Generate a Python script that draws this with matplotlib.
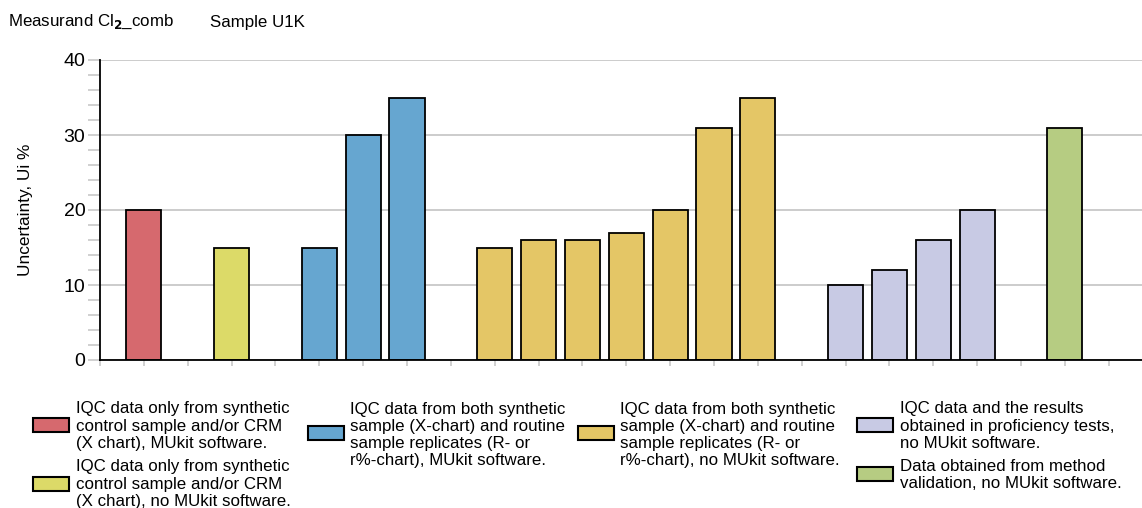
import matplotlib
matplotlib.use('Agg')
import matplotlib.pyplot as plt
from matplotlib.patches import Rectangle
from matplotlib.ticker import MultipleLocator

plt.rcParams['font.family'] = ['Liberation Sans', 'DejaVu Sans']

# slot positions along x (gaps between groups are empty slots)
positions = [1, 3, 5, 6, 7, 9, 10, 11, 12, 13, 14, 15, 17, 18, 19, 20, 22]
values = [20, 15, 15, 30, 35, 15, 16, 16, 17, 20, 31, 35, 10, 12, 16, 20, 31]
groups = [0, 1, 2, 2, 2, 3, 3, 3, 3, 3, 3, 3, 4, 4, 4, 4, 5]

group_colors = ['#D6696E', '#DCDA68', '#66A6D0', '#E4C666', '#C8CAE4', '#B6CC82']
group_labels = [
    'IQC data only from synthetic\ncontrol sample and/or CRM\n(X chart), MUkit software.',
    'IQC data only from synthetic\ncontrol sample and/or CRM\n(X chart), no MUkit software.',
    'IQC data from both synthetic\nsample (X-chart) and routine\nsample replicates (R- or\nr%-chart), MUkit software.',
    'IQC data from both synthetic\nsample (X-chart) and routine\nsample replicates (R- or\nr%-chart), no MUkit software.',
    'IQC data and the results\nobtained in proficiency tests,\nno MUkit software.',
    'Data obtained from method\nvalidation, no MUkit software.',
]

W, H = 1142, 508
fig = plt.figure(figsize=(W / 100, H / 100), dpi=100)
ax = fig.add_axes([100 / W, 1 - 360 / H, 1 - 100 / W, 300 / H])

ax.bar(positions, values, width=0.8, color=[group_colors[g] for g in groups],
       edgecolor='black', linewidth=1.3, zorder=3)

ax.set_xlim(0, 23.76)
ax.set_ylim(0, 40)
ax.set_xticks(range(0, 24))
ax.set_xticklabels([])
ax.yaxis.set_major_locator(MultipleLocator(10))
ax.yaxis.set_minor_locator(MultipleLocator(2))
ax.tick_params(axis='y', which='both', length=8.5, width=1.2, color='#c8c8c8',
               labelsize=14, pad=2)
ax.tick_params(axis='x', length=4, width=1.2, color='#c8c8c8')
ax.grid(axis='y', color='#c8c8c8', linewidth=1.3, zorder=0)
for s in ['top', 'right']:
    ax.spines[s].set_visible(False)
for s in ['left', 'bottom']:
    ax.spines[s].set_linewidth(1.3)
    ax.spines[s].set_zorder(4)
ax.set_ylabel('Uncertainty, Ui %', fontsize=12.4)
ax.yaxis.set_label_coords(-67 / 1042, 0.5)

fig.text(8 / W, 1 - 22 / H, 'Measurand Cl$_{\\mathbf{2}}$_comb', fontsize=12.2, va='center')
fig.text(210 / W, 1 - 22 / H, 'Sample U1K', fontsize=12.2, va='center')

# legend laid out in four columns
leg_boxes = [(33, 425, 76), (33, 484, 76), (308, 433, 350), (578, 433, 620),
             (857, 425, 900), (857, 474, 900)]
text_y = [426, 484, 435, 435, 426, 475]
for (px, py, tx), ty, col, lab in zip(leg_boxes, text_y, group_colors, group_labels):
    fig.patches.append(Rectangle((px / W, 1 - (py + 7) / H), 36 / W, 14 / H,
                                 facecolor=col, edgecolor='black', linewidth=1.5,
                                 transform=fig.transFigure, figure=fig))
    fig.text(tx / W, 1 - ty / H, lab, fontsize=12.2, va='center', ha='left',
             linespacing=1.17)

fig.savefig('out.png', dpi=100)
